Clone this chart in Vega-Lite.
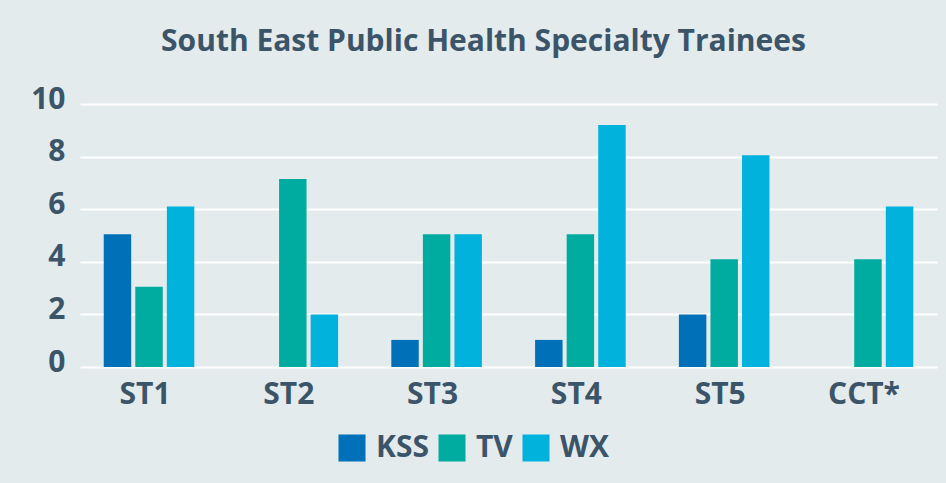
{
  "$schema": "https://vega.github.io/schema/vega-lite/v6.json",
  "autosize": {"type": "none"},
  "width": 857,
  "height": 263,
  "padding": {"left": 80, "top": 104, "right": 9, "bottom": 116},
  "background": "#e3ebed",
  "title": {
    "text": "South East Public Health Specialty Trainees",
    "anchor": "middle",
    "dx": -25,
    "offset": 27,
    "fontSize": 30,
    "font": "Open Sans",
    "fontWeight": "bold",
    "color": "#3c5468"
  },
  "data": {
    "values": [
      {"stage": "ST1", "region": "KSS", "trainees": 5.05},
      {"stage": "ST1", "region": "TV", "trainees": 3.05},
      {"stage": "ST1", "region": "WX", "trainees": 6.1},
      {"stage": "ST2", "region": "KSS", "trainees": 0},
      {"stage": "ST2", "region": "TV", "trainees": 7.15},
      {"stage": "ST2", "region": "WX", "trainees": 2},
      {"stage": "ST3", "region": "KSS", "trainees": 1.03},
      {"stage": "ST3", "region": "TV", "trainees": 5.05},
      {"stage": "ST3", "region": "WX", "trainees": 5.05},
      {"stage": "ST4", "region": "KSS", "trainees": 1.03},
      {"stage": "ST4", "region": "TV", "trainees": 5.05},
      {"stage": "ST4", "region": "WX", "trainees": 9.2},
      {"stage": "ST5", "region": "KSS", "trainees": 2},
      {"stage": "ST5", "region": "TV", "trainees": 4.1},
      {"stage": "ST5", "region": "WX", "trainees": 8.05},
      {"stage": "CCT*", "region": "KSS", "trainees": 0},
      {"stage": "CCT*", "region": "TV", "trainees": 4.1},
      {"stage": "CCT*", "region": "WX", "trainees": 6.1}
    ]
  },
  "mark": {"type": "bar"},
  "encoding": {
    "x": {
      "field": "stage",
      "type": "nominal",
      "sort": ["ST1", "ST2", "ST3", "ST4", "ST5", "CCT*"],
      "scale": {"paddingInner": 0.37, "paddingOuter": 0.165},
      "axis": {
        "title": null,
        "labelAngle": 0,
        "domain": false,
        "ticks": false,
        "labelFont": "Open Sans",
        "labelFontWeight": "bold",
        "labelFontSize": 30,
        "labelColor": "#3c5468",
        "labelPadding": 12,
        "labelOffset": -4
      }
    },
    "xOffset": {
      "field": "region",
      "type": "nominal",
      "scale": {"paddingInner": 0.13, "paddingOuter": 0}
    },
    "y": {
      "field": "trainees",
      "type": "quantitative",
      "scale": {"domain": [0, 10]},
      "axis": {
        "title": null,
        "values": [0, 2, 4, 6, 8, 10],
        "domain": false,
        "ticks": false,
        "gridColor": "#ffffff",
        "gridWidth": 2,
        "gridOpacity": 1,
        "labelFont": "Open Sans",
        "labelFontWeight": "bold",
        "labelFontSize": 30,
        "labelColor": "#3c5468",
        "labelPadding": 15,
        "labelOffset": -5
      }
    },
    "color": {
      "field": "region",
      "type": "nominal",
      "scale": {"domain": ["KSS", "TV", "WX"], "range": ["#0070b8", "#00ab9f", "#00b2dc"]},
      "legend": {
        "title": null,
        "orient": "none",
        "direction": "horizontal",
        "legendX": 257,
        "legendY": 329,
        "symbolType": "square",
        "symbolSize": 729,
        "symbolStrokeWidth": 0,
        "symbolOpacity": 1,
        "labelFont": "Open Sans",
        "labelFontWeight": "bold",
        "labelFontSize": 30,
        "labelColor": "#3c5468",
        "labelOffset": 9,
        "columnPadding": 8
      }
    }
  },
  "config": {
    "view": {"stroke": null}
  }
}
